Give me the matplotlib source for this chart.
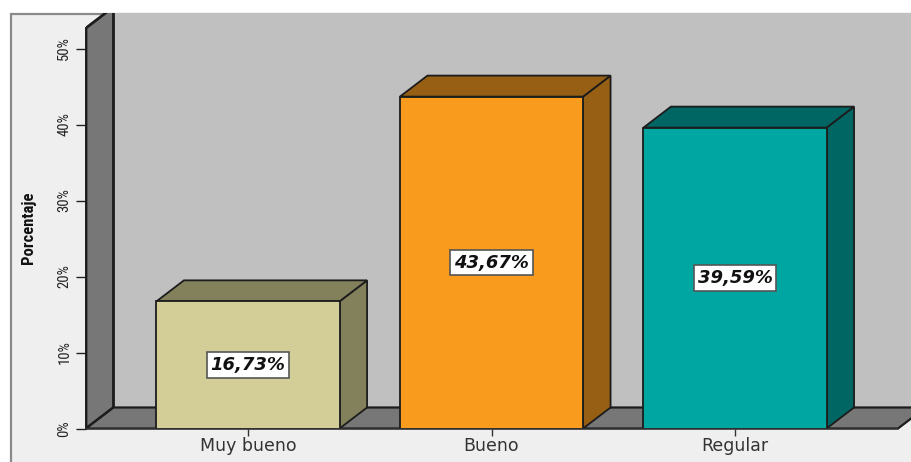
import matplotlib
matplotlib.use("Agg")
import matplotlib.pyplot as plt
from matplotlib.patches import Polygon, Rectangle

# Chart content
categories = ["Muy bueno", "Bueno", "Regular"]
percentages = [16.73, 43.67, 39.59]
value_labels = ["16,73%", "43,67%", "39,59%"]
front_colors = ["#D3CE97", "#F99B1D", "#00A6A2"]
shade_colors = ["#83805C", "#965F13", "#006664"]
y_ticks = [0, 10, 20, 30, 40, 50]
y_tick_labels = ["0%", "10%", "20%", "30%", "40%", "50%"]

W, H = 912, 462
NARROW = ["Roboto Condensed", "DejaVu Sans"]
EDGE = "#1c1c1c"

fig = plt.figure(figsize=(W / 100, H / 100), dpi=100, facecolor="white")

# Grey chart panel behind the plot
fig.add_artist(Rectangle((11.5 / W, -0.05), (W - 11) / W + 0.05, (H - 13.5) / H + 0.05,
                         transform=fig.transFigure, facecolor="#EFEFEF",
                         edgecolor="#8a8a8a", linewidth=1.6, zorder=-1))

# Plot frame: the axes' lower-left corner is the front corner of the floor
ax = fig.add_axes([86 / W, (H - 428.5) / H, (W - 86) / W, (428.5 - 13) / H])
ax.patch.set_visible(False)
x_min, x_max = -162 / 243.5, 664 / 243.5
y_max = 415.5 / 7.6
ax.set_xlim(x_min, x_max)
ax.set_ylim(0, y_max)

# Oblique offset used for the 3D walls and bar sides
dx, dy = 27.5 / 243.5, 21 / 7.6
bar_width = 0.752
floor_right = 650 / 243.5
wall_top = 52.7

# Back wall, side wall and floor
ax.add_patch(Rectangle((x_min + dx, dy), x_max - x_min, y_max, facecolor="#C0C0C0",
                       edgecolor="none", zorder=1))
ax.add_patch(Polygon([(x_min, 0), (x_min, wall_top), (x_min + dx, wall_top + dy),
                      (x_min + dx, dy)], facecolor="#777777", edgecolor=EDGE,
                     linewidth=2, zorder=2))
ax.add_patch(Polygon([(x_min, 0), (x_min + dx, dy), (floor_right + dx, dy),
                      (floor_right, 0)], facecolor="#777777", edgecolor=EDGE,
                     linewidth=1.6, zorder=2))

# Bars as a front face plus shaded top and side faces
for i, (value, label) in enumerate(zip(percentages, value_labels)):
    left, right = i - bar_width / 2, i + bar_width / 2
    ax.add_patch(Polygon([(right, 0), (right + dx, dy), (right + dx, value + dy), (right, value)],
                         facecolor=shade_colors[i], edgecolor=EDGE, linewidth=1.3, zorder=3))
    ax.add_patch(Polygon([(left, value), (left + dx, value + dy), (right + dx, value + dy), (right, value)],
                         facecolor=shade_colors[i], edgecolor=EDGE, linewidth=1.3, zorder=3))
    ax.add_patch(Rectangle((left, 0), bar_width, value, facecolor=front_colors[i],
                           edgecolor=EDGE, linewidth=1.3, zorder=4))
    ax.text(i, value / 2, label, ha="center", va="center", fontsize=13,
            fontweight="bold", fontstyle="italic", family="DejaVu Sans", color="#111111",
            zorder=5, bbox=dict(boxstyle="square,pad=0.2", facecolor="white",
                                edgecolor="#555555", linewidth=1.2))

# Axes, ticks and labels
for side in ("top", "right"):
    ax.spines[side].set_visible(False)
ax.spines["left"].set_bounds(0, wall_top)
ax.spines["left"].set_color(EDGE)
ax.spines["left"].set_linewidth(1.4)
ax.spines["left"].set_zorder(6)
ax.spines["bottom"].set_bounds(x_min, floor_right)
ax.spines["bottom"].set_color("#333333")
ax.spines["bottom"].set_linewidth(1.2)
ax.spines["bottom"].set_zorder(6)

ax.set_xticks(range(len(categories)), categories)
ax.set_yticks(y_ticks, y_tick_labels)
ax.tick_params(axis="y", length=7.5, width=1, color="#222222", pad=3, labelcolor="#222222")
ax.tick_params(axis="x", length=5, width=1, color="#333333", pad=1, labelcolor="#333333")
for t in ax.get_yticklabels():
    t.set(rotation=90, va="center", family=NARROW, fontsize=10.5)
for t in ax.get_xticklabels():
    t.set(family="DejaVu Sans", fontsize=12.5)

ax.set_ylabel("Porcentaje", family=NARROW, fontsize=12, fontweight="bold", color="#111111")
ax.yaxis.set_label_coords((36 - 86) / (W - 86), (428.5 - 228) / 415.5)

fig.savefig("out.png", dpi=100)
